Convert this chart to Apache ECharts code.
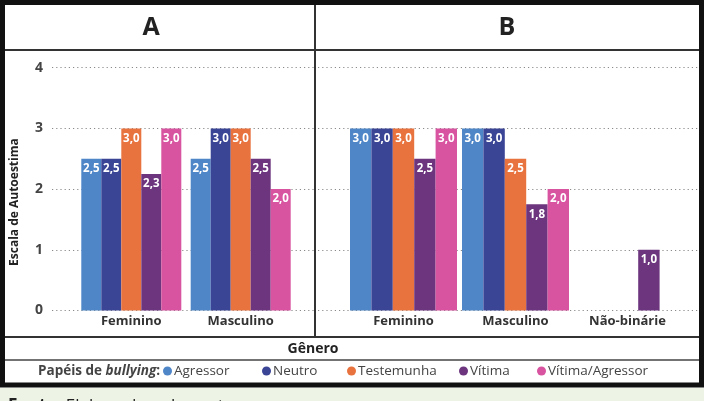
<!DOCTYPE html>
<html>
<head>
<meta charset="utf-8">
<script src="https://cdn.jsdelivr.net/npm/echarts@6/dist/echarts.min.js"></script>
<style>
html,body{margin:0;padding:0;background:#fff;}
#c{width:704px;height:401px;}
</style>
</head>
<body>
<div id="c"></div>
<script>
// ---- data ----
const categoriesA = ['Feminino', 'Masculino'];
const categoriesB = ['Feminino', 'Masculino', 'Não-binárie'];
const roles = ['Agressor', 'Neutro', 'Testemunha', 'Vítima', 'Vítima/Agressor'];
const agressorA   = [2.5, 2.5];
const neutroA     = [2.5, 3.0];
const testemunhaA = [3.0, 3.0];
const vitimaA     = [2.25, 2.5];
const vitAgrA     = [3.0, 2.0];
const agressorB   = [3.0, 3.0, null];
const neutroB     = [3.0, 3.0, null];
const testemunhaB = [3.0, 2.5, null];
const vitimaB     = [2.5, 1.75, 1.0];
const vitAgrB     = [3.0, 2.0, null];
const yTicks = [0, 1, 2, 3, 4];

const colors = ['#4e86c8', '#3a4596', '#e9733f', '#6c357e', '#d853a0'];
const seriesA = [agressorA, neutroA, testemunhaA, vitimaA, vitAgrA];
const seriesB = [agressorB, neutroB, testemunhaB, vitimaB, vitAgrB];

const FONT = '"Open Sans", "Noto Sans", sans-serif';
const chart = echarts.init(document.getElementById('c'), null, {renderer: 'canvas'});

function barSeries(data, i, axisIdx, w) {
  return {
    type: 'bar', name: roles[i], xAxisIndex: axisIdx, yAxisIndex: axisIdx,
    data: data, barWidth: w, barGap: '0%',
    itemStyle: {color: colors[i]},
    label: {
      show: true, position: 'insideTop', distance: 4,
      color: '#fff', fontWeight: 'bold', fontSize: 11.5, fontFamily: FONT,
      formatter: p => (p.value == null ? '' : Number(p.value).toFixed(1).replace('.', ','))
    },
    z: 3
  };
}

const dotted = {show: true, lineStyle: {type: [1.2, 3], color: '#8a8a8a', width: 1}};
const yBase = {type: 'value', min: 0, max: 4, interval: 1};

const legendLefts = [163, 262, 347, 459, 537];

const option = {
  animation: false,
  backgroundColor: '#fff',
  grid: [
    {left: 76.6, top: 67.7, width: 218.8, height: 242.8},
    {left: 347.5, top: 67.7, width: 336, height: 242.8},
    {left: 52, top: 67.7, width: 262, height: 242.8},
    {left: 318, top: 67.7, width: 380, height: 242.8}
  ],
  xAxis: [
    {type: 'category', gridIndex: 0, data: categoriesA, axisLine: {show: false}, axisTick: {show: false},
     axisLabel: {margin: 4, fontSize: 13, fontWeight: 'bold', color: '#333', fontFamily: FONT}},
    {type: 'category', gridIndex: 1, data: categoriesB, axisLine: {show: false}, axisTick: {show: false},
     axisLabel: {margin: 4, fontSize: 13, fontWeight: 'bold', color: '#333', fontFamily: FONT}},
    {type: 'value', gridIndex: 2, min: 0, max: 1, show: false},
    {type: 'value', gridIndex: 3, min: 0, max: 1, show: false}
  ],
  yAxis: [
    Object.assign({gridIndex: 0, show: false, splitLine: {show: false}}, yBase),
    Object.assign({gridIndex: 1, show: false, splitLine: {show: false}}, yBase),
    Object.assign({gridIndex: 2, axisLine: {show: false}, axisTick: {show: false},
      splitLine: dotted,
      axisLabel: {margin: 9, fontSize: 14, fontWeight: 'bold', color: '#444', fontFamily: FONT,
        formatter: v => (yTicks.indexOf(v) >= 0 ? String(v) : '')},
      name: 'Escala de Autoestima', nameLocation: 'middle', nameGap: 31,
      nameTextStyle: {fontSize: 12, fontWeight: 'bold', color: '#222', fontFamily: FONT, padding: [0, 26, 0, 0]}}, yBase),
    Object.assign({gridIndex: 3, axisLine: {show: false}, axisTick: {show: false},
      axisLabel: {show: false}, splitLine: dotted}, yBase)
  ],
  legend: roles.map((r, i) => ({
    data: [r], left: legendLefts[i], top: 364, itemWidth: 9, itemHeight: 9, icon: 'circle',
    padding: 0, selectedMode: false,
    textStyle: {fontSize: 13.5, color: '#444', fontFamily: FONT, padding: [0, 0, 0, -3]}
  })),
  series: [
    ...seriesA.map((d, i) => barSeries(d, i, 0, 20)),
    ...seriesB.map((d, i) => barSeries(d, i, 1, 21.4))
  ],
  graphic: [
    {type: 'rect', shape: {x: 0, y: 388, width: 704, height: 13}, style: {fill: '#edf4e5'}, z: 0},
    {type: 'text', left: 8, top: 398, z: 1,
     style: {text: '{b|Fonte:} Elaborado pelos autores.', fontSize: 17, fill: '#222', fontFamily: FONT,
       rich: {b: {fontWeight: 'bold', fontSize: 17, fill: '#222', fontFamily: FONT}}}},
    {type: 'rect', shape: {x: 2.5, y: 2.5, width: 699, height: 382.5}, style: {fill: null, stroke: '#111', lineWidth: 5}, z: 10},
    {type: 'line', shape: {x1: 5, y1: 50, x2: 699, y2: 50}, style: {stroke: '#333', lineWidth: 2}, z: 10},
    {type: 'line', shape: {x1: 315, y1: 5, x2: 315, y2: 337}, style: {stroke: '#333', lineWidth: 2}, z: 10},
    {type: 'line', shape: {x1: 5, y1: 337, x2: 699, y2: 337}, style: {stroke: '#333', lineWidth: 2}, z: 10},
    {type: 'line', shape: {x1: 5, y1: 360, x2: 699, y2: 360}, style: {stroke: '#444', lineWidth: 1.5}, z: 10},
    {type: 'text', x: 151, y: 28, z: 10,
     style: {text: 'A', fontSize: 25, fontWeight: 'bold', fill: '#222', fontFamily: FONT, align: 'center', verticalAlign: 'middle'}},
    {type: 'text', x: 507, y: 28, z: 10,
     style: {text: 'B', fontSize: 25, fontWeight: 'bold', fill: '#222', fontFamily: FONT, align: 'center', verticalAlign: 'middle'}},
    {type: 'text', x: 313, y: 349, z: 10,
     style: {text: 'Gênero', fontSize: 14, fontWeight: 'bold', fill: '#222', fontFamily: FONT, align: 'center', verticalAlign: 'middle'}},
    {type: 'text', x: 38, y: 371, z: 10,
     style: {text: '{n|Papéis de }{i|bullying}{n|:}', align: 'left', verticalAlign: 'middle',
       rich: {
         n: {fontSize: 13.5, fontWeight: 'bold', fill: '#444', fontFamily: FONT},
         i: {fontSize: 13.5, fontWeight: 'bold', fontStyle: 'italic', fill: '#444', fontFamily: FONT}
       }}}
  ]
};
chart.setOption(option);
</script>
</body>
</html>
